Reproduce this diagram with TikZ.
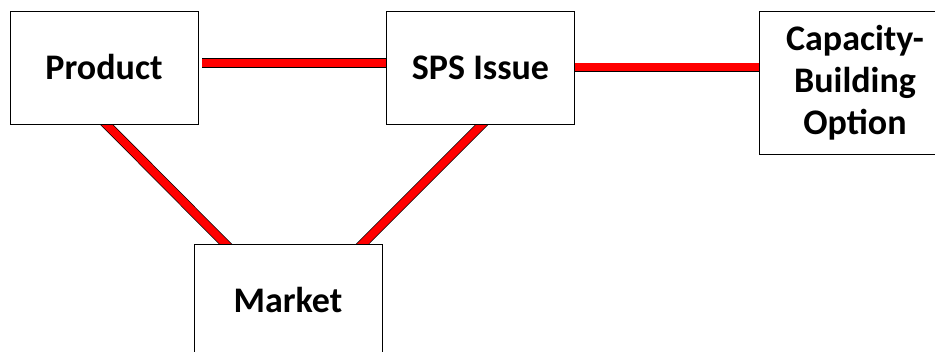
\documentclass[tikz,border=0pt]{standalone}
\usepackage{fontspec}
\setmainfont{Carlito}
\usetikzlibrary{backgrounds}
\tikzset{
  box/.style={draw=black, line width=.8pt, fill=white, align=center,
    font=\bfseries\fontsize{36}{42}\selectfont,
    minimum width=188pt, minimum height=113pt, inner sep=0pt},
  link/.style={draw=black, line width=.7pt, double=red, double distance=8pt},
}
\begin{document}
\begin{tikzpicture}[x=1pt, y=-1pt]
\useasboundingbox (0,0) rectangle (935,352);

\node [box] (prod) at (104,67.5) {Product};
\node [box] (sps) at (480.5,67.5) {SPS Issue};
\node [box, minimum width=192pt, minimum height=143pt] (cap) at (855,82.7) {Capacity-\\Building\\Option};
\node [box] (mkt) at (288,300.5) {Market};

\begin{scope}[on background layer]
\draw [link, shorten <=4pt] ([yshift=4.5pt]prod.east)--([yshift=4.5pt]sps.west);
\draw [link] (sps.east)--(sps.east -| cap.west);
\draw [link, shorten <=-8pt, shorten >=-8pt] ([xshift=2.5pt]prod.south)--([xshift=-63pt]mkt.north);
\draw [link, shorten <=-8pt, shorten >=-8pt] ([xshift=1.5pt]sps.south)--([xshift=75pt]mkt.north);
\end{scope}
\end{tikzpicture}
\end{document}
